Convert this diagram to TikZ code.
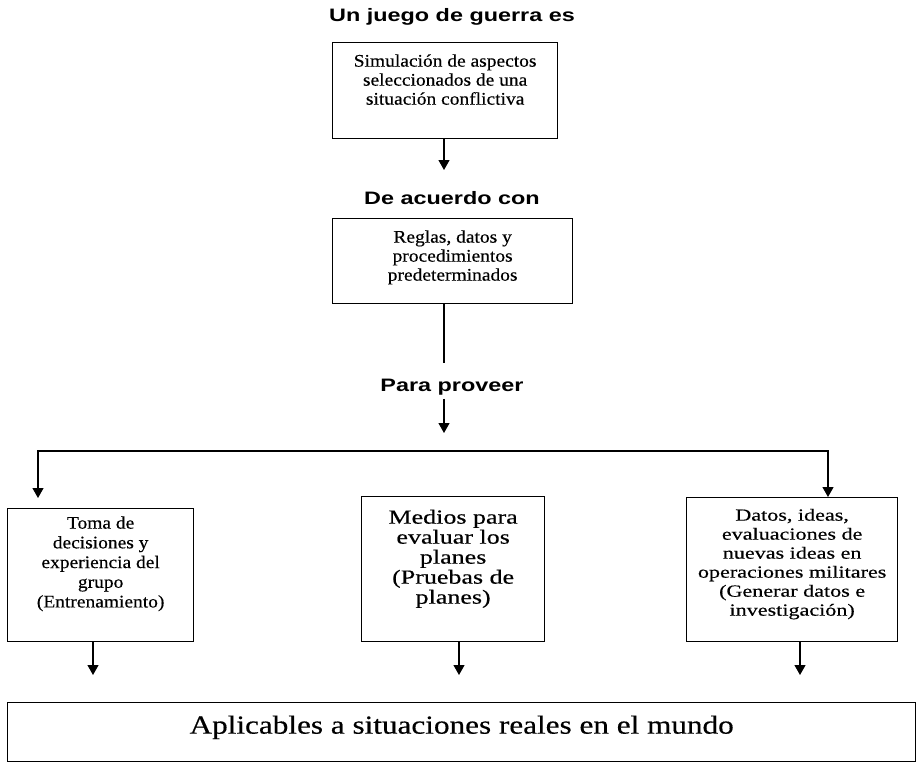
\documentclass[tikz,border=0pt]{standalone}
\usepackage{fontspec}
\setmainfont{Liberation Serif}
\newfontfamily\serifn[FakeStretch=1.1,FakeBold=0.4]{Liberation Serif}
\newfontfamily\serifm[FakeStretch=1.2,FakeBold=0.4]{Liberation Serif}
\newfontfamily\serifa[FakeStretch=1.3,FakeBold=0.4]{Liberation Serif}
\newfontfamily\sansb[FakeStretch=1.3]{Liberation Sans}
\usetikzlibrary{arrows.meta}

\begin{document}
\begin{tikzpicture}[x=1pt,y=-1pt,
  caja/.style={draw, line width=1.3pt, inner sep=0pt, anchor=north west},
  titulo/.style={font=\sansb\bfseries\fontsize{18}{20}\selectfont},
  linea/.style={line width=1.2pt},
  flecha/.style={linea, -{Triangle[width=11pt,length=10pt]}},
  flechas/.style={linea, {Triangle[width=11pt,length=10pt]}-{Triangle[width=11pt,length=10pt]}}]
\useasboundingbox (0,0) rectangle (916,763);

% titulos
\node[titulo] (t1) at (452,16.6) {Un juego de guerra es};
\node[titulo] (t2) at (452,198.5) {De acuerdo con};
\node[titulo] (t3) at (452,387.4) {Para proveer};

% cajas
\node[caja] (cj1) at (332,42) {\parbox[c][96pt][t]{225pt}{\serifn\fontsize{17.7}{19}\selectfont\centering
  \rule{0pt}{24pt}Simulación de aspectos\\ seleccionados de una\\ situación conflictiva\par}};
\node[caja] (cj2) at (332,218) {\parbox[c][85pt][t]{240pt}{\serifn\fontsize{17.7}{19}\selectfont\centering
  \rule{0pt}{24pt}Reglas, datos y\\ procedimientos\\ predeterminados\par}};
\node[caja] (cjL) at (7,508) {\parbox[c][133pt][t]{186pt}{\serifn\fontsize{17.7}{19.7}\selectfont\centering
  \rule{0pt}{20pt}Toma de\\ decisiones y\\ experiencia del\\ grupo\\ (Entrenamiento)\par}};
\node[caja] (cjM) at (361,496) {\parbox[c][145pt][t]{183pt}{\serifa\fontsize{20}{20}\selectfont\centering
  \rule{0pt}{27pt}Medios para\\ evaluar los\\ planes\\ (Pruebas de\\ planes)\par}};
\node[caja] (cjR) at (686,497) {\parbox[c][144pt][t]{211pt}{\serifa\fontsize{17}{19}\selectfont\centering
  \rule{0pt}{23pt}Datos, ideas,\\ evaluaciones de\\ nuevas ideas en\\ operaciones militares\\ (Generar datos e\\ investigación)\par}};
\node[caja] (cjAb) at (7,702) {\parbox[c][59pt][t]{908pt}{\serifm\fontsize{26}{30}\selectfont\centering
  \rule{0pt}{31pt}Aplicables a situaciones reales en el mundo\par}};

% conectores
\coordinate (fin1) at (444,170);
\coordinate (fin2) at (444,363);
\coordinate (fin3) at (444,433);
\coordinate (finL) at (38,498);
\coordinate (rama) at (828,451);

\draw[flecha] (cj1.south -| fin1) -- (fin1);
\draw[linea] (cj2.south -| fin2) -- (fin2);
\draw[flecha] (t3.south -| fin3) -- (fin3);
\draw[flechas] (finL) |- (rama) -- (rama |- cjR.north);
\foreach \c/\x in {cjL/93,cjM/459,cjR/800}{
  \coordinate (a\c) at (\x,675);
  \draw[flecha] (\c.south -| a\c) -- (a\c);
}
\end{tikzpicture}
\end{document}
